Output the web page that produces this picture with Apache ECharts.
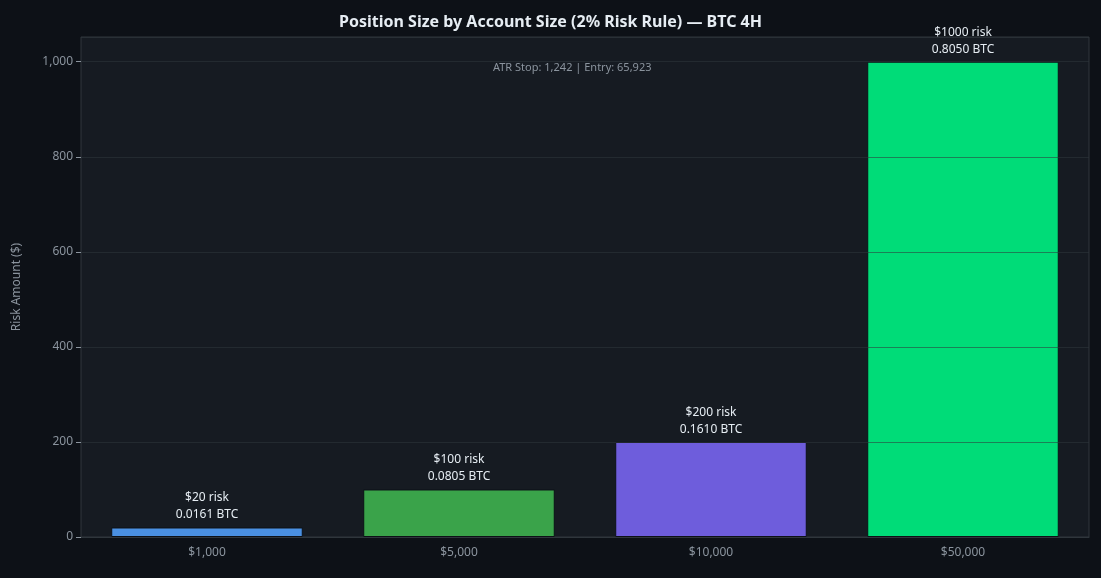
<!DOCTYPE html>
<html><head><meta charset="utf-8">
<script src="https://cdn.jsdelivr.net/npm/echarts@6/dist/echarts.min.js"></script>
<style>html,body{margin:0;background:#0d1117}#c{width:1101px;height:578px}</style>
</head><body><div id="c"></div>
<script>
// Position size by account size, BTC 4H, 2% risk
const accounts = ["$1,000", "$5,000", "$10,000", "$50,000"];
const riskAmount = [20, 100, 200, 1000];
const btcSize = ["0.0161", "0.0805", "0.1610", "0.8050"];
const barColors = ["#4a90e2", "#3aa34a", "#6e5ddc", "#00dc78"];

const chart = echarts.init(document.getElementById("c"), null, { renderer: "canvas" });
const font = "Noto Sans";
chart.setOption({
  backgroundColor: "#0d1117",
  textStyle: { fontFamily: font },
  title: {
    text: "Position Size by Account Size (2% Risk Rule) — BTC 4H",
    left: "center", top: 9,
    textStyle: { color: "#e6edf3", fontSize: 16, fontWeight: "bold", fontFamily: font },
  },
  graphic: [{
    type: "text", left: 493, top: 62,
    style: { text: "ATR Stop: 1,242 | Entry: 65,923", fill: "#8b949e", fontSize: 11, fontFamily: font },
  }],
  grid: { left: 81, right: 12, top: 37, bottom: 41, show: true, backgroundColor: "#161b22", borderColor: "#30363d", borderWidth: 1 },
  xAxis: {
    type: "category", data: accounts,
    axisLine: { lineStyle: { color: "#30363d" } },
    axisTick: { alignWithLabel: true, lineStyle: { color: "#8b949e" } },
    axisLabel: { color: "#8b949e", fontSize: 12, margin: 10 },
  },
  yAxis: {
    type: "value", min: 0, max: 1052, interval: 200, z: 3,
    name: "Risk Amount ($)", nameLocation: "middle", nameGap: 58,
    nameTextStyle: { color: "#8b949e", fontSize: 12 },
    axisLine: { show: false },
    axisTick: { show: true, lineStyle: { color: "#8b949e" } },
    axisLabel: { color: "#8b949e", fontSize: 12, showMaxLabel: false },
    splitLine: { lineStyle: { color: "rgba(48,54,61,0.55)" } },
  },
  series: [{
    type: "bar", barWidth: "76%",
    data: riskAmount.map((v, i) => ({ value: v, itemStyle: { color: barColors[i] } })),
    itemStyle: { borderColor: "#0d1117", borderWidth: 1 },
    label: {
      show: true, position: "top", distance: 4, color: "#e6edf3", fontSize: 12, lineHeight: 17,
      formatter: (p) => `$${p.value} risk\n${btcSize[p.dataIndex]} BTC`,
    },
  }],
});
</script></body></html>
